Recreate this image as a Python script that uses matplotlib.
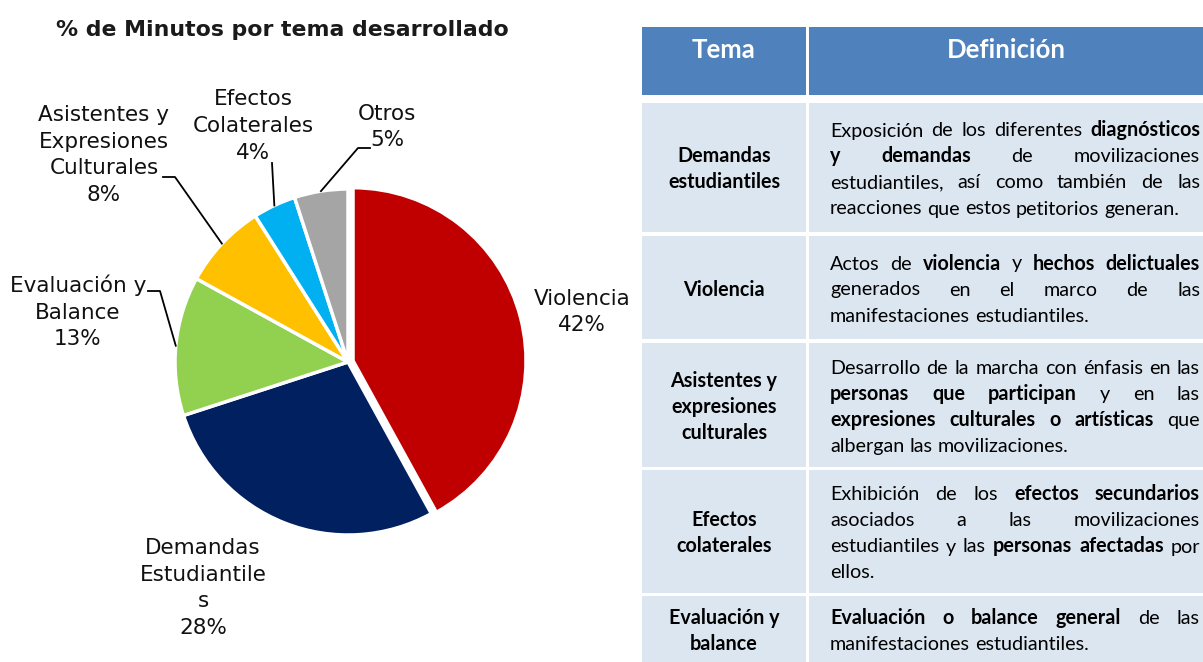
import matplotlib
matplotlib.use('Agg')
import matplotlib.pyplot as plt
from matplotlib.patches import Rectangle
import numpy as np

W, H = 1203, 662

# ---------------- data ----------------
categories = ['Violencia', 'Demandas\nEstudiantile\ns', 'Evaluación y\nBalance',
              'Asistentes y\nExpresiones\nCulturales', 'Efectos\nColaterales', 'Otros']
values = [42, 28, 13, 8, 4, 5]
colors = ['#C00000', '#002060', '#92D050', '#FFC000', '#00B0F0', '#A5A5A5']
title = '% de Minutos por tema desarrollado'

table_header = ['Tema', 'Definición']
table_themes = ['Demandas\nestudiantiles', 'Violencia', 'Asistentes y\nexpresiones\nculturales',
                'Efectos\ncolaterales', 'Evaluación y\nbalance']
table_definitions = [
    ['Exposición de los diferentes **diagnósticos**',
     '**y** **demandas** de movilizaciones',
     'estudiantiles, así como también de las',
     'reacciones que estos petitorios generan.'],
    ['Actos de **violencia** y **hechos delictuales**',
     'generados en el marco de las',
     'manifestaciones estudiantiles.'],
    ['Desarrollo de la marcha con énfasis en las',
     '**personas que participan** y en las',
     '**expresiones culturales o artísticas** que',
     'albergan las movilizaciones.'],
    ['Exhibición de los **efectos secundarios**',
     'asociados a las movilizaciones',
     'estudiantiles y las **personas afectadas** por',
     'ellos.'],
    ['**Evaluación o balance general** de las',
     'manifestaciones estudiantiles.'],
]

# ---------------- figure ----------------
fig = plt.figure(figsize=(W / 100, H / 100), dpi=100)
fig.patch.set_facecolor('white')

cx, cy, R = 348, 362, 173
axp = fig.add_axes([0, 0, 1, 1])
wedges, _ = axp.pie(values, colors=colors, startangle=90, counterclock=False,
                    explode=[0.03, 0, 0, 0, 0, 0],
                    wedgeprops=dict(edgecolor='white', linewidth=2.5))
axp.set_aspect('auto')
axp.set_xlim(-cx / R, (W - cx) / R)
axp.set_ylim(-(H - cy) / R, cy / R)
axp.axis('off')

ax = fig.add_axes([0, 0, 1, 1], facecolor='none')
ax.set_xlim(0, W)
ax.set_ylim(H, 0)
ax.axis('off')

# title
ax.text(282, 30, title, ha='center', va='center', fontsize=15.8, fontweight='bold',
        family='DejaVu Sans', color='#1a1a1a')

# pie labels
label_pos = [(582, 312), (203, 588), (78, 312), (104, 155), (253, 126), (387, 127)]
elbows = [None, None, [(148, 291), (160, 291)], [(163, 177), (175, 177)],
          [(272, 163)], [(370, 148), (358, 148)]]
for i, (lab, v) in enumerate(zip(categories, values)):
    x, y = label_pos[i]
    ax.text(x, y, f'{lab}\n{v}%', ha='center', va='center', fontsize=15.5,
            family='DejaVu Sans', linespacing=1.42, color='#111111')
    if elbows[i] is not None:
        w = wedges[i]
        th = np.deg2rad((w.theta1 + w.theta2) / 2)
        px = cx + R * np.cos(th)
        py = cy - R * np.sin(th)
        pts = elbows[i] + [(px, py)]
        ax.plot([p[0] for p in pts], [p[1] for p in pts], color='black', lw=1.3)

# ---------------- table ----------------
header_color = '#4F81BD'
row_color = '#DCE6F1'
c1 = (642, 806)
c2 = (809, 1203)
header_box = (27, 95)
row_boxes = [(103, 232), (236, 339), (343, 467), (470, 593), (596, 662)]

for (a, b) in (c1, c2):
    ax.add_patch(Rectangle((a, header_box[0]), b - a, header_box[1] - header_box[0],
                           facecolor=header_color, edgecolor='none'))
    for (t, bt) in row_boxes:
        ax.add_patch(Rectangle((a, t), b - a, bt - t, facecolor=row_color, edgecolor='none'))

ax.text((c1[0] + c1[1]) / 2, 58, table_header[0], ha='center', va='baseline',
        fontsize=18.5, fontweight='bold', family='Lato', color='white')
ax.text((c2[0] + c2[1]) / 2, 58, table_header[1], ha='center', va='baseline',
        fontsize=18.5, fontweight='bold', family='Lato', color='white')

renderer = fig.canvas.get_renderer()
FS = 14.2
LS = 26
x0, x1 = 830, 1200


def width(s, bold):
    t = ax.text(0, 0, s, fontsize=FS, family='Lato', fontweight='bold' if bold else 'normal')
    wd = t.get_window_extent(renderer).width
    t.remove()
    return wd


space_w = width('x x', False) - width('xx', False)


def parse(line):
    parts = line.split('**')
    words = []
    for k, p in enumerate(parts):
        for wd in p.split():
            words.append((wd, k % 2 == 1))
    return words


for r, ((t, bt), theme, lines) in enumerate(zip(row_boxes, table_themes, table_definitions)):
    yc = (t + bt) / 2
    # column 1
    tl = theme.split('\n')
    for k, s in enumerate(tl):
        yb = yc - (len(tl) - 1) * LS / 2 + k * LS + 8
        ax.text((c1[0] + c1[1]) / 2, yb, s, ha='center', va='baseline', fontsize=FS,
                fontweight='bold', family='Lato', color='black')
    # column 2 (justified)
    for k, line in enumerate(lines):
        yb = yc - (len(lines) - 1) * LS / 2 + k * LS + 8
        words = parse(line)
        ws = [width(wd, b) for wd, b in words]
        last = (k == len(lines) - 1)
        if last or len(words) == 1:
            gap = space_w
        else:
            gap = (x1 - x0 - sum(ws)) / (len(words) - 1)
        x = x0
        for (wd, b), wv in zip(words, ws):
            ax.text(x, yb, wd, ha='left', va='baseline', fontsize=FS, family='Lato',
                    fontweight='bold' if b else 'normal', color='black')
            x += wv + gap

fig.savefig('out.png', dpi=100, facecolor='white')
